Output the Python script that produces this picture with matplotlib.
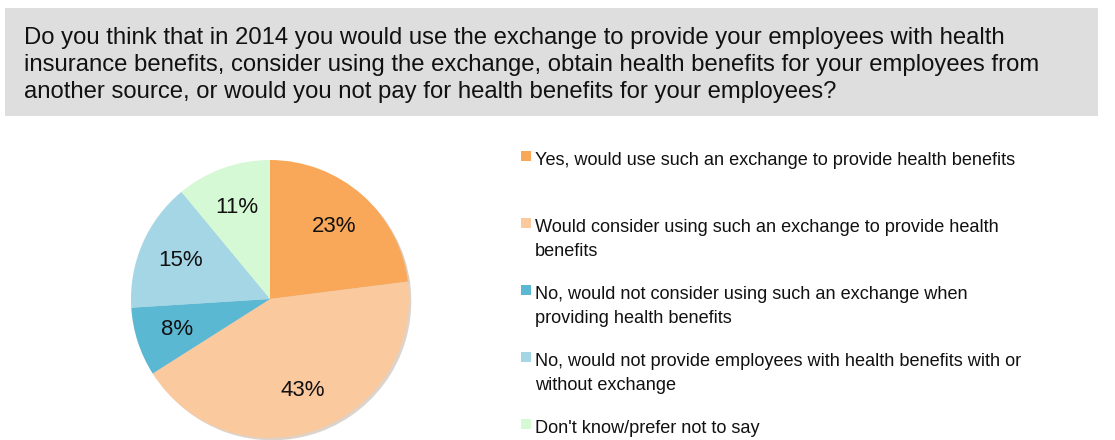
import matplotlib
matplotlib.use("Agg")
import matplotlib.pyplot as plt
from matplotlib.patches import Rectangle

plt.rcParams['font.family'] = ['Liberation Sans', 'DejaVu Sans']

question = ["Do you think that in 2014 you would use the exchange to provide your employees with health",
            "insurance benefits, consider using the exchange, obtain health benefits for your employees from",
            "another source, or would you not pay for health benefits for your employees?"]

answers = [
    ["Yes, would use such an exchange to provide health benefits"],
    ["Would consider using such an exchange to provide health", "benefits"],
    ["No, would not consider using such an exchange when", "providing health benefits"],
    ["No, would not provide employees with health benefits with or", "without exchange"],
    ["Don't know/prefer not to say"],
]
shares = [23, 43, 8, 15, 11]
colors = ['#F9A85A', '#FAC99E', '#5AB8D2', '#A4D6E5', '#D5F9D5']

W, H = 1115, 440
fig = plt.figure(figsize=(W / 100, H / 100), dpi=100)

def fx(px):
    return px / W

def fy(py):
    return 1 - py / H

# grey question box
fig.patches.append(Rectangle((fx(5), fy(116)), fx(1098) - fx(5), fy(8) - fy(116),
                             transform=fig.transFigure, facecolor='#DEDEDE',
                             edgecolor='none', zorder=0))
for k, line in enumerate(question):
    fig.text(fx(24), fy(44.3 + 27 * k), line, fontsize=17.2, va='baseline',
             ha='left', color='#111111')

# pie
cx, cy, r = 270, 299, 139
ax = fig.add_axes([fx(cx - r), fy(cy + r), 2 * r / W, 2 * r / H])
wedges, texts, autotexts = ax.pie(
    shares, colors=colors, startangle=90, counterclock=False,
    autopct='%d%%', pctdistance=0.7,
    shadow={'ox': 0.012, 'oy': -0.012, 'shade': 0.35, 'alpha': 0.35},
    wedgeprops={'linewidth': 0},
    textprops={'fontsize': 16, 'color': '#111111'})
ax.set_xlim(-1, 1)
ax.set_ylim(-1, 1)
ax.set_aspect('equal')
ax.axis('off')

# legend on the right, one fixed slot per answer
for i, (lines, col) in enumerate(zip(answers, colors)):
    base = 165 + 67 * i
    fig.patches.append(Rectangle((fx(521), fy(base - 4)), fx(10), 10 / H,
                                 transform=fig.transFigure, facecolor=col,
                                 edgecolor='none'))
    for k, line in enumerate(lines):
        fig.text(fx(535), fy(base + 24.3 * k), line, fontsize=13.1,
                 va='baseline', ha='left', color='#111111')

fig.savefig('out.png', dpi=100)
